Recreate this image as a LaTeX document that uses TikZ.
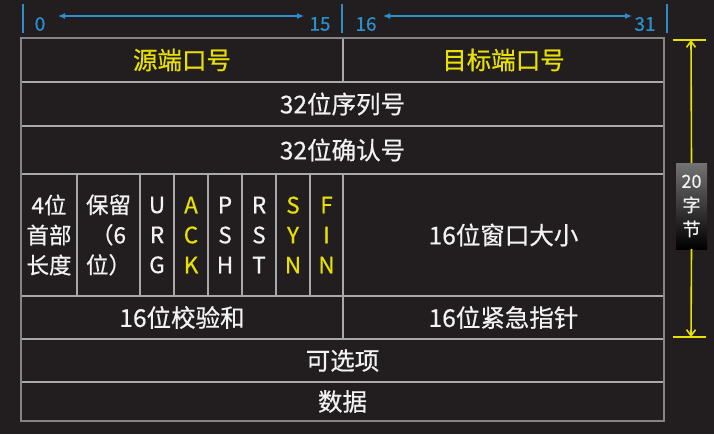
\documentclass[tikz,border=0pt]{standalone}
\usepackage{fontspec}
\setmainfont{Noto Sans CJK SC}[FakeBold=0.6]
\usetikzlibrary{arrows.meta}
\definecolor{bg}{HTML}{221E1F}
\definecolor{gridc}{HTML}{A9A9A9}
\definecolor{outer}{HTML}{858585}
\definecolor{tickblue}{HTML}{2A8FCB}
\definecolor{ylw}{HTML}{E8E000}
\definecolor{txt}{HTML}{F2F2F2}
\newcommand\mycell[7]{%
  \node[cell,#6,minimum width={#4pt-#2pt},minimum height={#5pt-#3pt}]
    (#1) at ({(#2+#4)/2},{(#3+#5)/2}) {#7};}
\tikzset{
  cell/.style={draw=gridc,line width=1.3pt,inner sep=0pt,text=txt,
    font=\fontsize{24.5}{30}\selectfont,align=center},
  flag/.style={font=\fontsize{22.5}{30}\selectfont},
  hi/.style={text=ylw},
  tick/.style={draw=tickblue,line width=1.2pt},
  bitnum/.style={text=tickblue,font=\fontsize{19}{19}\selectfont,inner sep=0pt},
  span/.style={draw=tickblue,line width=1.2pt,{Latex[length=7pt,width=6pt]}-{Latex[length=7pt,width=6pt]}},
  ybar/.style={draw=ylw,line width=2pt},
  yarrow/.style={draw=ylw,line width=1.6pt,-{Straight Barb[length=6pt,width=9pt]}},
}
\begin{document}
\begin{tikzpicture}[x=1pt,y=-1pt]
\useasboundingbox (0,0) rectangle (714,434);
\fill[bg] (0,0) rectangle (714,434);
% bit numbering
\coordinate (t0a) at (23,4);  \coordinate (t0b) at (23,33);
\coordinate (t1a) at (342,4); \coordinate (t1b) at (342,33);
\coordinate (t2a) at (667,4); \coordinate (t2b) at (667,33);
\draw[tick] (t0a) -- (t0b);
\draw[tick] (t1a) -- (t1b);
\draw[tick] (t2a) -- (t2b);
\node[bitnum] (n0) at (40,24) {0};
\node[bitnum] (n15) at (320,24) {15};
\node[bitnum] (n16) at (366,24) {16};
\node[bitnum] (n31) at (645,24) {31};
\coordinate (a0) at (58,16);  \coordinate (a15) at (304,16);
\coordinate (a16) at (383,16); \coordinate (a31) at (632,16);
\draw[span] (a0) -- (a15);
\draw[span] (a16) -- (a31);
% rows
\mycell{src}{21}{38}{343}{82}{hi}{源端口号}
\mycell{dst}{343}{38}{664}{82}{hi}{目标端口号}
\mycell{seq}{21}{82}{664}{126}{}{32位序列号}
\mycell{ack}{21}{126}{664}{174}{}{32位确认号}
\mycell{hlen}{21}{174}{77}{296}{flag}{4位\\首部\\长度}
\mycell{res}{77}{174}{140}{296}{flag}{保留\\（6\\位）}
\mycell{urg}{140}{174}{174}{296}{flag}{U\\R\\G}
\mycell{fack}{174}{174}{208}{296}{flag,hi}{A\\C\\K}
\mycell{psh}{208}{174}{242}{296}{flag}{P\\S\\H}
\mycell{rst}{242}{174}{276}{296}{flag}{R\\S\\T}
\mycell{syn}{276}{174}{310}{296}{flag,hi}{S\\Y\\N}
\mycell{fin}{310}{174}{343}{296}{flag,hi}{F\\I\\N}
\mycell{win}{343}{174}{664}{296}{}{16位窗口大小}
\mycell{chk}{21}{296}{343}{339}{}{16位校验和}
\mycell{urp}{343}{296}{664}{339}{}{16位紧急指针}
\mycell{opt}{21}{339}{664}{382}{}{可选项}
\mycell{data}{21}{382}{664}{421}{}{数据}
\draw[outer,line width=1.6pt] (21,38) rectangle (664,421);
% 20 bytes dimension
\coordinate (ytl) at (673,40);  \coordinate (ytr) at (706,40);
\coordinate (ybl) at (673,337); \coordinate (ybr) at (706,337);
\coordinate (ytop) at (691,40); \coordinate (ybot) at (691,337);
\draw[ybar] (ytl) -- (ytr);
\draw[ybar] (ybl) -- (ybr);
\node[minimum width=31pt,minimum height=86pt,inner sep=0pt,top color=black!55,bottom color=black,
  text=txt,font=\fontsize{18}{24}\selectfont,align=center] (lbl) at (691.5,206) {20\\字\\节};
\draw[yarrow] (lbl.north) -- (ytop);
\draw[yarrow] (lbl.south) -- (ybot);
\end{tikzpicture}
\end{document}
